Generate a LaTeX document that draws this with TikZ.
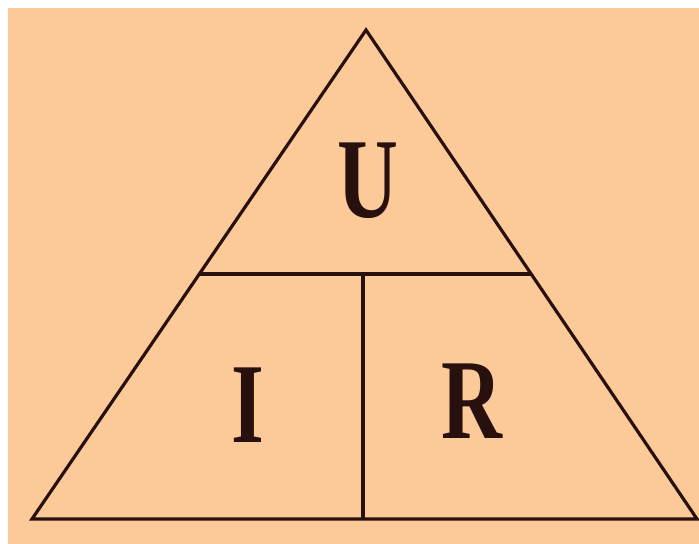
\documentclass[tikz,border=0pt]{standalone}
\usepackage{fontspec}
\newfontfamily\letterfont[FakeStretch=0.74]{Liberation Serif Bold}
\definecolor{peach}{RGB}{252,201,152}
\definecolor{ink}{RGB}{40,16,14}
\begin{document}
\begin{tikzpicture}[x=0.5pt, y=-0.5pt,
  edge/.style={draw=ink, line width=1.6pt, line join=miter},
  qty/.style={font=\letterfont\fontsize{57}{60}\selectfont, text=ink, anchor=base, inner sep=0pt}]
\useasboundingbox (0,0) rectangle (699,544);
\fill[peach] (8,8) rectangle (699,544);
% corners of the triangle
\coordinate (apex) at (366,30);
\coordinate (bl)   at (32,519);
\coordinate (br)   at (697,519);
\coordinate (ml)   at (199,274);
\coordinate (mr)   at (531,274);
\coordinate (mt)   at (363,274);
\coordinate (mb)   at (363,519);
\draw[edge] (bl) -- (apex) -- (br) -- cycle;
\draw[edge] (ml) -- (mr);
\draw[edge] (mt) -- (mb);
% the three quantities
\node[qty] (volt) at (368,218) {U};
\node[qty] (amp)  at (248,442) {I};
\node[qty] (ohm)  at (472,438) {R};
\end{tikzpicture}
\end{document}
